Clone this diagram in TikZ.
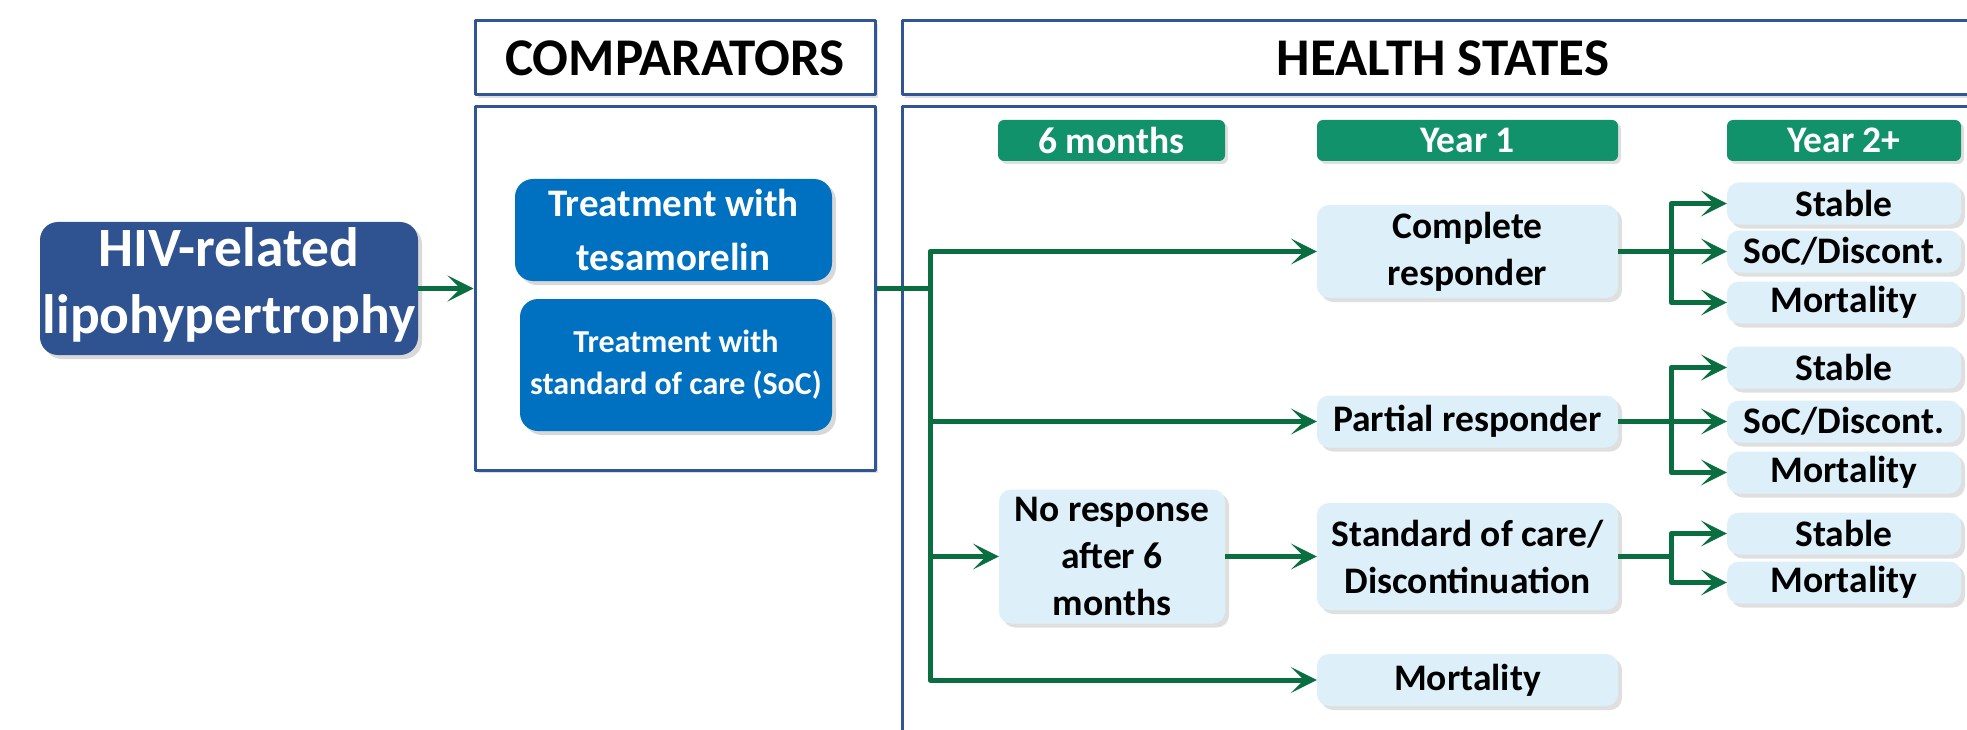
\documentclass[tikz,border=0pt]{standalone}
\usepackage{fontspec}
\setmainfont{Carlito}
\usetikzlibrary{arrows.meta,shadows}
\definecolor{frameblue}{HTML}{2F5597}
\definecolor{hivblue}{HTML}{2F5290}
\definecolor{compblue}{HTML}{0070C0}
\definecolor{hdrgreen}{HTML}{11926A}
\definecolor{linegreen}{HTML}{0A6E40}
\definecolor{statefill}{HTML}{DDF0FA}
\newcommand\hivstrut{\rule[-15pt]{0pt}{52pt}}
\begin{document}
\begin{tikzpicture}[x=1pt,y=-1pt,font=\bfseries,line join=round,>={Stealth[length=26pt,width=26pt,inset=13pt]}]
	\tikzset{
		frame/.style={draw=frameblue,line width=3pt,fill=white,inner sep=0pt,
			drop shadow={shadow xshift=3pt,shadow yshift=-3pt,opacity=0.25,fill=gray}},
		darkbox/.style={fill=#1,text=white,rounded corners=18pt,align=center,inner sep=0pt,
			drop shadow={shadow xshift=4pt,shadow yshift=-4pt,opacity=0.3,fill=gray}},
		yearhdr/.style={fill=hdrgreen,text=white,rounded corners=6pt,minimum height=41,inner sep=0pt,
			font=\bfseries\fontsize{37.5}{45}\selectfont,
			drop shadow={shadow xshift=3pt,shadow yshift=-3pt,opacity=0.25,fill=gray}},
		state/.style={fill=statefill,rounded corners=12pt,align=center,inner sep=0pt,
			font=\bfseries\fontsize{37.5}{47}\selectfont,
			drop shadow={shadow xshift=4pt,shadow yshift=-4pt,opacity=0.25,fill=gray}},
		endstate/.style={state,minimum width=234,minimum height=42},
		conn/.style={draw=linegreen,line width=5pt}
	}
	\useasboundingbox (0,0) rectangle (1967,730);
	% frames
	\node[frame,minimum width=400,minimum height=74,font=\bfseries\fontsize{53}{64}\selectfont] (compHead) at (675,58) {COMPARATORS};
	\node[frame,minimum width=400,minimum height=363] (compBody) at (675,288.5) {};
	\node[frame,minimum width=1082,minimum height=74,font=\bfseries\fontsize{53}{64}\selectfont] (healthHead) at (1443,58) {HEALTH STATES};
	\node[frame,minimum width=1082,minimum height=638] (healthBody) at (1443,426) {};
	% model entry and comparators
	\node[darkbox=hivblue,minimum width=378,minimum height=133,font=\bfseries\fontsize{55.5}{67}\selectfont] (hiv) at (229,288.5) {\hivstrut HIV-related\\\hivstrut lipohypertrophy};
	\node[darkbox=compblue,minimum width=317,minimum height=102,font=\bfseries\fontsize{39}{54}\selectfont] (tesa) at (673.5,230) {Treatment with\\tesamorelin};
	\node[darkbox=compblue,minimum width=312,minimum height=132,font=\bfseries\fontsize{32}{42}\selectfont] (soc) at (676,365) {Treatment with\\standard of care (SoC)};
	% time headers
	\node[yearhdr,minimum width=227] (m6) at (1111.5,140.5) {6 months};
	\node[yearhdr,minimum width=301] (yr1) at (1467.5,140.5) {Year 1};
	\node[yearhdr,minimum width=234] (yr2) at (1844,140.5) {Year 2+};
	% health states
	\node[state,minimum width=301,minimum height=93] (complete) at (1467.5,251.5) {Complete\\responder};
	\node[state,minimum width=301,minimum height=52] (partial) at (1467.5,421.5) {Partial responder};
	\node[state,minimum width=226,minimum height=134] (noresp) at (1112,556.5) {No response\\after 6\\months};
	\node[state,minimum width=301,minimum height=107] (socdisc) at (1467.5,556.5) {Standard of care/\\Discontinuation};
	\node[state,minimum width=301,minimum height=52] (mortA) at (1467.5,680) {Mortality};
	\node[endstate] (s1) at (1844,203.5) {Stable};
	\node[endstate] (d1) at (1844,251.5) {SoC/Discont.};
	\node[endstate] (m1) at (1844,302.5) {Mortality};
	\node[endstate] (s2) at (1844,367.5) {Stable};
	\node[endstate] (d2) at (1844,421.5) {SoC/Discont.};
	\node[endstate] (m2) at (1844,472.5) {Mortality};
	\node[endstate] (s3) at (1844,533.5) {Stable};
	\node[endstate] (m3) at (1844,582.5) {Mortality};
	% connectors
	\draw[conn,->] (hiv.east) -- (compBody.west);
	\coordinate (trunk) at (930,288.5);
	\draw[conn] (compBody.east) -- (trunk);
	\foreach \t in {complete,partial,noresp,mortA}
	\draw[conn,->] (trunk) |- (\t.west);
	\draw[conn,->] (noresp.east) -- (socdisc.west);
	\path (complete.east) -- ++(53,0) coordinate (b1);
	\path (partial.east) -- ++(53,0) coordinate (b2);
	\path (socdisc.east) -- ++(53,0) coordinate (b3);
	\draw[conn] (complete.east) -- (b1);
	\draw[conn] (partial.east) -- (b2);
	\draw[conn] (socdisc.east) -- (b3);
	\foreach \t in {s1,d1,m1}
	\draw[conn,->] (b1) |- (\t.west);
	\foreach \t in {s2,d2,m2}
	\draw[conn,->] (b2) |- (\t.west);
	\foreach \t in {s3,m3}
	\draw[conn,->] (b3) |- (\t.west);
\end{tikzpicture}
\end{document}
